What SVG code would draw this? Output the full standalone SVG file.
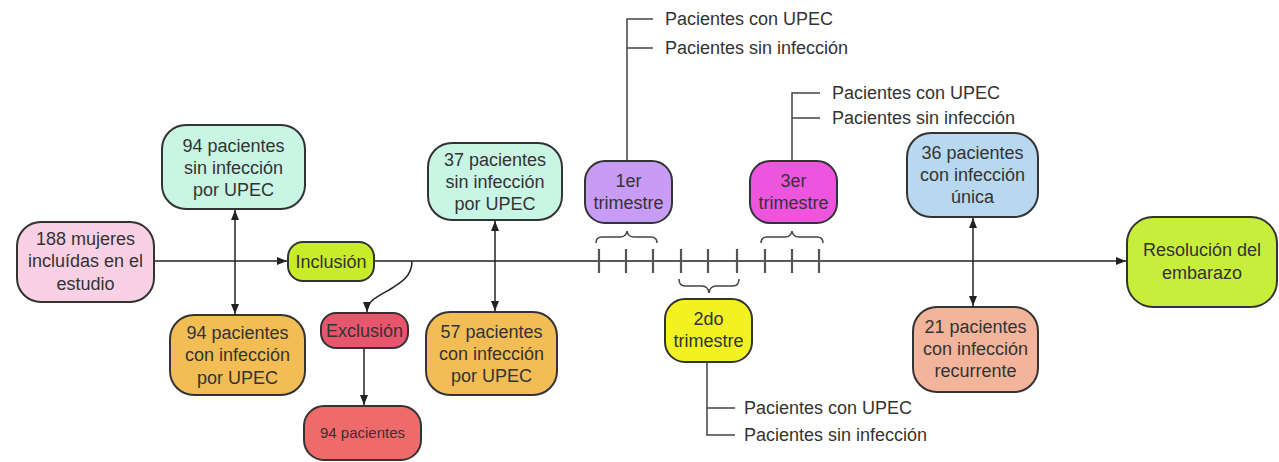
<svg xmlns="http://www.w3.org/2000/svg" width="1279" height="462" viewBox="0 0 1279 462">
<style>
.box{stroke:#333;stroke-width:2}
.t{font-family:"Liberation Sans",Arial,sans-serif;font-size:18px;fill:#333;text-anchor:middle}
.l{font-family:"Liberation Sans",Arial,sans-serif;font-size:18px;fill:#333;text-anchor:start}
.c{fill:none;stroke:#222;stroke-width:1.5}
.g{fill:none;stroke:#444;stroke-width:1.5}
.tick{stroke:#555;stroke-width:2.2}
</style>
<defs>
<marker id="ah" markerUnits="userSpaceOnUse" markerWidth="10" markerHeight="8" refX="10" refY="4" orient="auto-start-reverse">
<path d="M0,0 L10,4 L0,8 z" fill="#222"/>
</marker>
</defs>
<rect width="1279" height="462" fill="#fff"/>
<g id="connectors">
<line class="c" x1="154" y1="261" x2="287" y2="261" marker-end="url(#ah)"/>
<line class="c" x1="374" y1="261" x2="1126" y2="261" marker-end="url(#ah)"/>
<line class="c" x1="235" y1="210" x2="235" y2="314" marker-start="url(#ah)" marker-end="url(#ah)"/>
<line class="c" x1="495" y1="221" x2="495" y2="311" marker-start="url(#ah)" marker-end="url(#ah)"/>
<line class="c" x1="973" y1="218" x2="973" y2="306" marker-start="url(#ah)" marker-end="url(#ah)"/>
<path class="c" d="M412,261 C412,276 402,282 389,290 C373,299 367,302 367,312" marker-end="url(#ah)"/>
<line class="c" x1="364" y1="349" x2="364" y2="405" marker-end="url(#ah)"/>
<g id="ticks">
<line class="tick" x1="599" y1="249" x2="599" y2="273"/>
<line class="tick" x1="626" y1="249" x2="626" y2="273"/>
<line class="tick" x1="653" y1="249" x2="653" y2="273"/>
<line class="tick" x1="681" y1="249" x2="681" y2="273"/>
<line class="tick" x1="708" y1="249" x2="708" y2="273"/>
<line class="tick" x1="737" y1="249" x2="737" y2="273"/>
<line class="tick" x1="765" y1="249" x2="765" y2="273"/>
<line class="tick" x1="792" y1="249" x2="792" y2="273"/>
<line class="tick" x1="819" y1="249" x2="819" y2="273"/>
</g>
<g id="braces">
<path class="g" d="M596,243 Q596,237 602,237 L620,237 Q626,237 627,231 Q628,237 634,237 L651,237 Q657,237 657,243"/>
<path class="g" d="M761,243 Q761,237 767,237 L785,237 Q791,237 792,231 Q793,237 799,237 L817,237 Q823,237 823,243"/>
<path class="g" d="M679,279 Q679,286 685,286 L702,286 Q708,286 709,293 Q710,286 716,286 L733,286 Q739,286 739,279"/>
</g>
<g id="lists">
<path class="g" d="M627,161 L627,19 L653,19 M627,48 L653,48"/>
<path class="g" d="M792,161 L792,93 L820,93 M792,118 L820,118"/>
<path class="g" d="M707,362 L707,435 L735,435 M707,408 L735,408"/>
</g>
</g>
<g id="list-1er">
<text class="l" x="665" y="25">Pacientes con UPEC</text>
<text class="l" x="665" y="54">Pacientes sin infección</text>
</g>
<g id="list-3er">
<text class="l" x="832" y="99">Pacientes con UPEC</text>
<text class="l" x="832" y="124">Pacientes sin infección</text>
</g>
<g id="list-2do">
<text class="l" x="744" y="414">Pacientes con UPEC</text>
<text class="l" x="744" y="441">Pacientes sin infección</text>
</g>
<g id="n188">
<rect class="box" x="17" y="222" width="137" height="80" rx="24" fill="#f9d0e4"/>
<text class="t" x="85.5" y="245">188 mujeres</text>
<text class="t" x="85.5" y="267">incluídas en el</text>
<text class="t" x="85.5" y="290">estudio</text>
</g>
<g id="n94sin">
<rect class="box" x="162" y="125" width="143" height="84" rx="24" fill="#c9f5e5"/>
<text class="t" x="233.5" y="152">94 pacientes</text>
<text class="t" x="233.5" y="174">sin infección</text>
<text class="t" x="233.5" y="196">por UPEC</text>
</g>
<g id="inclusion">
<rect class="box" x="288" y="242" width="86" height="39" rx="15" fill="#c8ec2a"/>
<text class="t" x="331" y="268">Inclusión</text>
</g>
<g id="n94con">
<rect class="box" x="170" y="315" width="135" height="80" rx="24" fill="#f2bd55"/>
<text class="t" x="237.5" y="339">94 pacientes</text>
<text class="t" x="237.5" y="361">con infección</text>
<text class="t" x="237.5" y="384">por UPEC</text>
</g>
<g id="exclusion">
<rect class="box" x="321" y="313" width="87" height="35" rx="15" fill="#e8566e"/>
<text class="t" x="364.5" y="337">Exclusión</text>
</g>
<g id="n94exc">
<rect class="box" x="304" y="406" width="117" height="54" rx="20" fill="#ef6b6b"/>
<text class="t" x="362.5" y="438" style="font-size:15px">94 pacientes</text>
</g>
<g id="n37">
<rect class="box" x="428" y="143" width="134" height="77" rx="24" fill="#c9f5e5"/>
<text class="t" x="495" y="166">37 pacientes</text>
<text class="t" x="495" y="188">sin infección</text>
<text class="t" x="495" y="210">por UPEC</text>
</g>
<g id="n57">
<rect class="box" x="426" y="312" width="131" height="83" rx="24" fill="#f2bd55"/>
<text class="t" x="491.5" y="338">57 pacientes</text>
<text class="t" x="491.5" y="360">con infección</text>
<text class="t" x="491.5" y="382">por UPEC</text>
</g>
<g id="t1">
<rect class="box" x="585" y="161" width="87" height="62" rx="20" fill="#c89cf5"/>
<text class="t" x="628.5" y="187">1er</text>
<text class="t" x="628.5" y="209">trimestre</text>
</g>
<g id="t3">
<rect class="box" x="750" y="161" width="87" height="62" rx="20" fill="#ee55de"/>
<text class="t" x="793.5" y="187">3er</text>
<text class="t" x="793.5" y="209">trimestre</text>
</g>
<g id="t2">
<rect class="box" x="665" y="299" width="87" height="63" rx="20" fill="#f2f222"/>
<text class="t" x="708.5" y="325">2do</text>
<text class="t" x="708.5" y="347">trimestre</text>
</g>
<g id="n36">
<rect class="box" x="907" y="133" width="131" height="84" rx="24" fill="#b8d8f0"/>
<text class="t" x="972.5" y="159">36 pacientes</text>
<text class="t" x="972.5" y="181">con infección</text>
<text class="t" x="972.5" y="203">única</text>
</g>
<g id="n21">
<rect class="box" x="913" y="307" width="125" height="85" rx="24" fill="#f2b49b"/>
<text class="t" x="975.5" y="333">21 pacientes</text>
<text class="t" x="975.5" y="355">con infección</text>
<text class="t" x="975.5" y="377">recurrente</text>
</g>
<g id="resolucion">
<rect class="box" x="1127" y="217" width="150" height="90" rx="26" fill="#c8ee3c"/>
<text class="t" x="1202" y="256">Resolución del</text>
<text class="t" x="1202" y="279">embarazo</text>
</g>
</svg>
